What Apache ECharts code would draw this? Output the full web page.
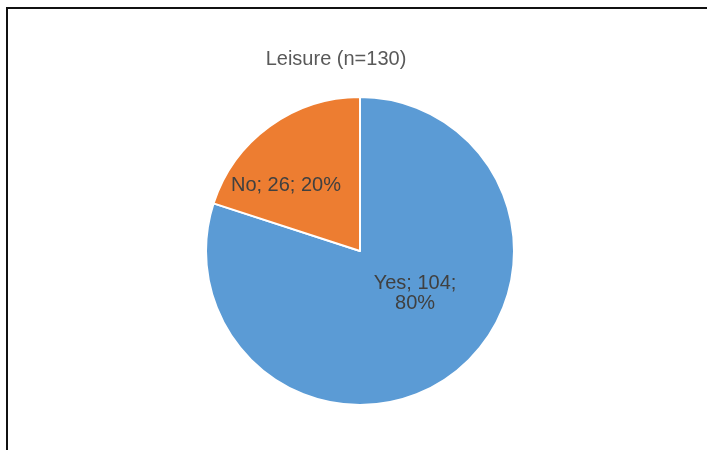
<!DOCTYPE html>
<html>
<head>
<meta charset="utf-8">
<script src="https://cdn.jsdelivr.net/npm/echarts@6/dist/echarts.min.js"></script>
<style>
html,body{margin:0;padding:0;background:#fff;}
#frame{position:absolute;left:6px;top:7px;width:720px;height:460px;border-left:2px solid #111;border-top:2px solid #111;box-sizing:border-box;}
#chart{position:absolute;left:0;top:0;width:707px;height:450px;}
</style>
</head>
<body>
<div id="frame"></div>
<div id="chart"></div>
<script>
var titleText = 'Leisure (n=130)';
var categories = ['Yes', 'No'];
var values = [104, 26];
var colors = ['#5B9BD5', '#ED7D31'];

var chart = echarts.init(document.getElementById('chart'));
var data = categories.map(function (c, i) {
  return {
    name: c,
    value: values[i],
    itemStyle: { color: colors[i] },
    label: i === 0
      ? { formatter: '{b}; {c};\n{d}%', offset: [8, -22] }
      : { formatter: '{b}; {c}; {d}%', offset: [-27, -1] }
  };
});
chart.setOption({
  animation: false,
  title: {
    text: titleText,
    left: 331,
    top: 44,
    textAlign: 'center',
    textStyle: { fontFamily: 'Liberation Sans', fontSize: 20, fontWeight: 'normal', color: '#595959' }
  },
  series: [{
    type: 'pie',
    center: [360, 251],
    radius: [0, 154],
    startAngle: 90,
    clockwise: true,
    data: data,
    itemStyle: { borderColor: '#fff', borderWidth: 2 },
    label: {
      show: true,
      position: 'inside',
      fontFamily: 'Liberation Sans',
      fontSize: 20,
      color: '#404040',
      lineHeight: 20,
      align: 'center'
    },
    labelLine: { show: false },
    emphasis: { disabled: true }
  }]
});
</script>
</body>
</html>
